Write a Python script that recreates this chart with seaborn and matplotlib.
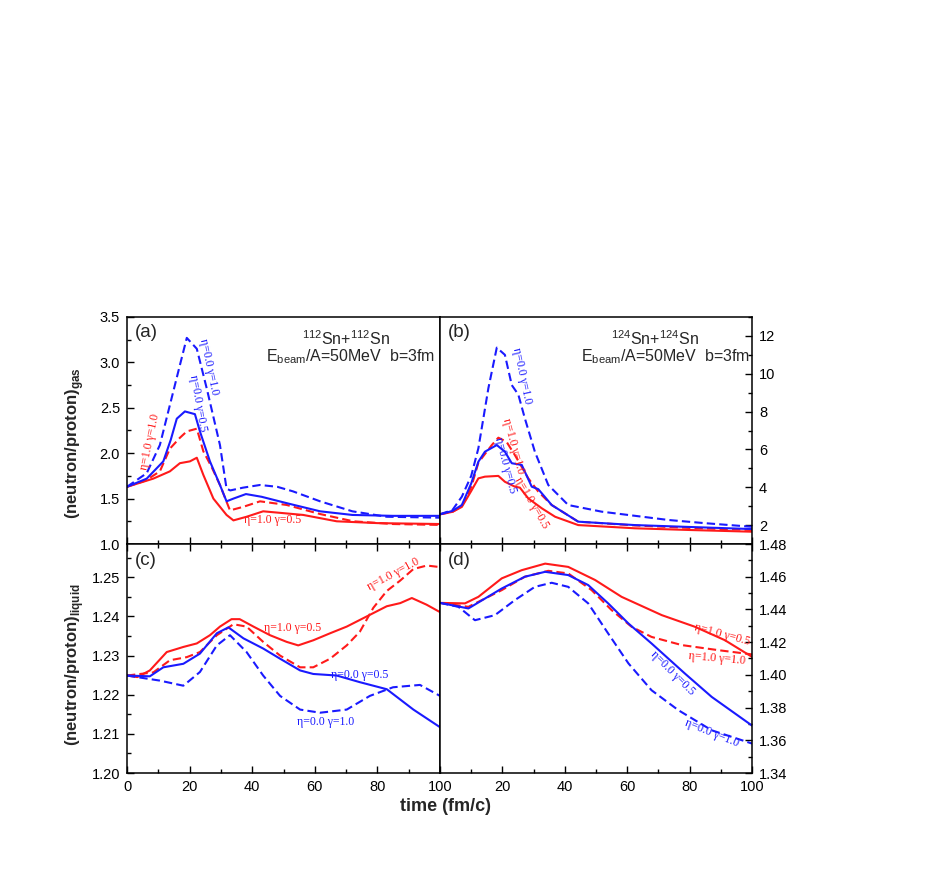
import numpy as np
import pandas as pd
import matplotlib.pyplot as plt
import seaborn as sns
from matplotlib.ticker import MultipleLocator, FixedLocator

sns.set_style("ticks")
plt.rcParams['font.family'] = ['Liberation Sans', 'DejaVu Sans']
plt.rcParams['mathtext.fontset'] = 'custom'
plt.rcParams['mathtext.rm'] = 'Liberation Sans'
plt.rcParams['mathtext.bf'] = 'Liberation Sans:bold'

RED = '#ff1a1a'
BLUE = '#1a1aff'

# panel (a): 112Sn+112Sn, gas
a_t_b10 = [0, 6.3, 10.5, 13.7, 16.9, 19.1, 22.3, 25.5, 29.7, 31.8, 33, 37, 42.5, 48, 53, 61.7, 72, 83, 100]
a_v_b10 = [1.63, 1.78, 2.09, 2.53, 2.97, 3.27, 3.15, 2.71, 2.09, 1.61, 1.59, 1.62, 1.65, 1.63, 1.58, 1.47, 1.36, 1.30, 1.29]
a_t_b05 = [0, 6.3, 11.6, 14, 15.9, 18.5, 21.7, 23.3, 26.5, 29.7, 31.8, 34, 38, 43, 51, 61.7, 72, 85, 100]
a_v_b05 = [1.63, 1.72, 1.91, 2.15, 2.38, 2.46, 2.43, 2.24, 1.91, 1.65, 1.47, 1.50, 1.55, 1.52, 1.45, 1.36, 1.32, 1.31, 1.31]
a_t_r10 = [0, 6, 10.5, 13.7, 16.9, 19.1, 22.3, 24.4, 27, 29.7, 32.9, 37.2, 42.5, 51, 61.7, 72.3, 85, 100]
a_v_r10 = [1.63, 1.70, 1.80, 2.05, 2.17, 2.24, 2.27, 2.02, 1.85, 1.65, 1.37, 1.41, 1.47, 1.43, 1.33, 1.25, 1.22, 1.21]
a_t_r05 = [0, 8.4, 13.7, 16.9, 20.1, 22.3, 24.4, 27.6, 31.8, 34, 38.2, 43.5, 56.3, 67, 80, 100]
a_v_r05 = [1.63, 1.72, 1.80, 1.89, 1.91, 1.95, 1.76, 1.50, 1.32, 1.26, 1.30, 1.36, 1.32, 1.25, 1.23, 1.22]

# panel (b): 124Sn+124Sn, gas
b_t_b10 = [0, 4, 7, 10, 12.3, 15.5, 18.2, 20.8, 23, 25.1, 27.2, 30.4, 34.7, 41.1, 51.8, 62, 73.2, 85, 100]
b_v_b10 = [2.57, 2.8, 3.5, 4.6, 6.06, 9.23, 11.38, 11.0, 9.4, 8.9, 7.64, 5.88, 4.12, 3.06, 2.71, 2.5, 2.27, 2.1, 1.91]
b_t_b05 = [0, 4, 7, 10, 12.3, 14.4, 18.2, 20.8, 23, 26.2, 29.4, 31.5, 35.8, 44.3, 62.5, 80, 100]
b_v_b05 = [2.57, 2.75, 3.06, 4.2, 5.35, 5.88, 6.23, 5.88, 5.27, 5.18, 4.03, 3.9, 3.06, 2.18, 2.0, 1.9, 1.79]
b_t_r10 = [0, 4, 7, 10, 12.3, 16.6, 18.7, 21.3, 24, 28.3, 31.5, 35.8, 44.3, 62.5, 80, 100]
b_v_r10 = [2.57, 2.7, 3.0, 4.0, 5.3, 6.23, 6.62, 6.41, 5.7, 4.47, 3.77, 3.06, 2.18, 1.98, 1.85, 1.74]
b_t_r05 = [0, 4, 7, 10, 12.3, 14.4, 18.7, 20.8, 24, 25.6, 28.3, 32.6, 36.9, 44.3, 62.5, 80, 100]
b_v_r05 = [2.57, 2.7, 2.96, 3.8, 4.47, 4.56, 4.6, 4.29, 4.03, 3.98, 3.41, 2.89, 2.44, 2.0, 1.83, 1.74, 1.65]

# panel (c): 112Sn+112Sn, liquid
c_t_r05 = [0, 3.3, 7.3, 12.7, 18, 22.3, 26.5, 29.7, 33.4, 36, 40.4, 45.7, 51, 54.7, 59.5, 64.9, 70.2, 76.6, 83, 87.3, 91, 95.7, 100]
c_v_r05 = [1.2249, 1.2245, 1.2262, 1.2309, 1.2322, 1.2331, 1.2352, 1.2374, 1.2393, 1.2393, 1.2374, 1.2352, 1.2335, 1.2326,
           1.2339, 1.2357, 1.2374, 1.2400, 1.2426, 1.2434, 1.2447, 1.2430, 1.2411]
c_t_r10 = [0, 8.4, 13.7, 19.1, 23.3, 28.7, 34, 38.2, 43.5, 48.9, 55.3, 59.5, 64.9, 70.2, 74.4, 78.7, 83, 87.2, 91.5, 95.8, 100]
c_v_r10 = [1.2249, 1.2257, 1.2288, 1.2296, 1.2309, 1.2352, 1.2380, 1.2374, 1.2335, 1.2300, 1.2270, 1.2270, 1.2292, 1.2326,
           1.2361, 1.2422, 1.2465, 1.2491, 1.2521, 1.2530, 1.2526]
c_t_b05 = [0, 7.3, 11.6, 18, 23.3, 28.7, 32.4, 37.2, 43.5, 48.9, 55.3, 59.5, 67, 74.4, 83, 91.5, 100]
c_v_b05 = [1.2249, 1.2247, 1.2270, 1.2279, 1.2305, 1.2357, 1.2372, 1.2344, 1.2318, 1.2292, 1.2262, 1.2253, 1.2249, 1.2232,
           1.2214, 1.2162, 1.2117]
c_t_b10 = [0, 10.5, 18, 23.3, 28.7, 32.9, 38.2, 43.5, 48.9, 55.3, 61.7, 70.2, 77.6, 85, 93.6, 100]
c_v_b10 = [1.2249, 1.2236, 1.2223, 1.2258, 1.2326, 1.2352, 1.2309, 1.2249, 1.2197, 1.2162, 1.2154, 1.2162, 1.2197, 1.2219,
           1.2225, 1.2197]

# panel (d): 124Sn+124Sn, liquid
d_t_r05 = [0, 8, 12.3, 19.8, 26.2, 33.7, 41.1, 49.7, 58.2, 71.1, 81.7, 91.3, 100]
d_v_r05 = [1.444, 1.4437, 1.4477, 1.459, 1.464, 1.468, 1.466, 1.458, 1.4477, 1.4365, 1.4294, 1.4212, 1.411]
d_t_r10 = [0, 9.1, 19.8, 27.2, 34.7, 41.1, 48.6, 55, 61.4, 67.8, 77.5, 89.2, 100]
d_v_r10 = [1.444, 1.4416, 1.4518, 1.460, 1.4636, 1.462, 1.4518, 1.4396, 1.4294, 1.4232, 1.4182, 1.4151, 1.4125]
d_t_b05 = [0, 9.1, 19.8, 27.2, 33.7, 41.1, 47.5, 53.9, 60.4, 67.8, 78.5, 87.1, 100]
d_v_b05 = [1.444, 1.4406, 1.4528, 1.460, 1.463, 1.461, 1.4549, 1.4437, 1.4314, 1.4192, 1.4008, 1.3865, 1.369]
d_t_b10 = [0, 5.9, 11.2, 17.6, 24, 30.4, 35.8, 41.1, 47.5, 53.9, 60.4, 67.8, 76.4, 87.1, 100]
d_v_b10 = [1.444, 1.4416, 1.4334, 1.4365, 1.4457, 1.4538, 1.4563, 1.4538, 1.4437, 1.4253, 1.407, 1.3906, 1.3784, 1.3661, 1.358]

fig = plt.figure(figsize=(9.26, 8.72), dpi=100)
W, H = 926, 872


def box(x0, y0, x1, y1):
    return [x0 / W, 1 - y1 / H, (x1 - x0) / W, (y1 - y0) / H]


ax_a = fig.add_axes(box(127, 317, 440, 544))
ax_b = fig.add_axes(box(440, 317, 752, 544))
ax_c = fig.add_axes(box(127, 544, 440, 773))
ax_d = fig.add_axes(box(440, 544, 752, 773))


def curve(ax, t, v, color, dashed):
    sns.lineplot(x=t, y=v, ax=ax, color=color, lw=1.5, estimator=None, sort=False,
                 linestyle=(0, (4, 2)) if dashed else '-')


curve(ax_a, a_t_r05, a_v_r05, RED, False)
curve(ax_a, a_t_r10, a_v_r10, RED, True)
curve(ax_a, a_t_b05, a_v_b05, BLUE, False)
curve(ax_a, a_t_b10, a_v_b10, BLUE, True)

curve(ax_b, b_t_r05, b_v_r05, RED, False)
curve(ax_b, b_t_r10, b_v_r10, RED, True)
curve(ax_b, b_t_b05, b_v_b05, BLUE, False)
curve(ax_b, b_t_b10, b_v_b10, BLUE, True)

curve(ax_c, c_t_r05, c_v_r05, RED, False)
curve(ax_c, c_t_r10, c_v_r10, RED, True)
curve(ax_c, c_t_b05, c_v_b05, BLUE, False)
curve(ax_c, c_t_b10, c_v_b10, BLUE, True)

curve(ax_d, d_t_r05, d_v_r05, RED, False)
curve(ax_d, d_t_r10, d_v_r10, RED, True)
curve(ax_d, d_t_b05, d_v_b05, BLUE, False)
curve(ax_d, d_t_b10, d_v_b10, BLUE, True)

# axes styling
for ax in [ax_a, ax_b, ax_c, ax_d]:
    ax.set_xlim(0, 100)
    ax.set_xlabel('')
    ax.set_ylabel('')
    ax.xaxis.set_major_locator(MultipleLocator(20))
    ax.xaxis.set_minor_locator(MultipleLocator(10))
    for s in ax.spines.values():
        s.set_linewidth(1.1)
        s.set_color('black')
    ax.tick_params(which='both', direction='in', colors='black', labelsize=10.5, width=1.0, pad=5)
    ax.tick_params(which='major', length=5)
    ax.tick_params(which='minor', length=3)

ax_a.set_ylim(1.0, 3.5)
ax_a.yaxis.set_major_locator(MultipleLocator(0.5))
ax_a.yaxis.set_minor_locator(MultipleLocator(0.25))
ax_a.yaxis.set_major_formatter(lambda v, p: f'{v:.1f}')
ax_a.tick_params(which='both', top=False, bottom=True, left=True, right=False, labelbottom=False)

ax_b.set_ylim(1, 13)
ax_b.yaxis.set_major_locator(FixedLocator([2, 4, 6, 8, 10, 12]))
ax_b.yaxis.set_minor_locator(FixedLocator(list(range(1, 14))))
ax_b.yaxis.tick_right()
ax_b.tick_params(which='both', top=False, bottom=True, left=False, right=True, labelbottom=False,
                 labelleft=False, labelright=True)

ax_c.set_ylim(1.20, 1.2585)
ax_c.yaxis.set_major_locator(FixedLocator([1.20, 1.21, 1.22, 1.23, 1.24, 1.25]))
ax_c.yaxis.set_minor_locator(MultipleLocator(0.005))
ax_c.yaxis.set_major_formatter(lambda v, p: f'{v:.2f}')
ax_c.tick_params(which='both', top=True, bottom=True, left=True, right=False)

ax_d.set_ylim(1.34, 1.48)
ax_d.yaxis.set_major_locator(MultipleLocator(0.02))
ax_d.yaxis.set_minor_locator(MultipleLocator(0.01))
ax_d.yaxis.set_major_formatter(lambda v, p: f'{v:.2f}')
ax_d.yaxis.tick_right()
ax_d.tick_params(which='both', top=True, bottom=True, left=False, right=True, labelleft=False, labelright=True)
ax_d.set_xticks([0, 20, 40, 60, 80, 100])
ax_d.set_xticklabels(['', '20', '40', '60', '80', '100'])

# panel tags and reaction text
for ax, tag in [(ax_a, '(a)'), (ax_b, '(b)'), (ax_c, '(c)'), (ax_d, '(d)')]:
    ax.text(0.025, 0.93, tag, transform=ax.transAxes, fontsize=13.5, va='center', ha='left')

beam = r'E$_{\mathrm{beam}}$/A=50MeV  b=3fm'
ax_a.text(0.70, 0.905, r'$^{112}$Sn+$^{112}$Sn', transform=ax_a.transAxes, fontsize=11.5, ha='center', va='center')
ax_a.text(0.985, 0.825, beam, transform=ax_a.transAxes, fontsize=11.5, ha='right', va='center')
ax_b.text(0.69, 0.905, r'$^{124}$Sn+$^{124}$Sn', transform=ax_b.transAxes, fontsize=11.5, ha='center', va='center')
ax_b.text(0.995, 0.825, beam, transform=ax_b.transAxes, fontsize=11.5, ha='right', va='center')

# curve labels
serif = ['Liberation Serif', 'DejaVu Serif']


def lab(ax, x, y, s, color, rot):
    ax.text(x, y, s, color=color, rotation=rot, fontsize=8.5, family=serif, ha='center', va='center',
            rotation_mode='anchor')


lab(ax_a, 26.2, 2.95, 'η=0.0 γ=1.0', BLUE, -78)
lab(ax_a, 22.6, 2.55, 'η=0.0 γ=0.5', BLUE, -80)
lab(ax_a, 7.3, 2.12, 'η=1.0 γ=1.0', RED, 78)
lab(ax_a, 46.6, 1.26, 'η=1.0 γ=0.5', RED, 0)

lab(ax_b, 26.2, 9.9, 'η=0.0 γ=1.0', BLUE, -78)
lab(ax_b, 23.6, 6.2, 'η=1.0 γ=1.0', RED, -75)
lab(ax_b, 20.8, 5.15, 'η=0.0 γ=0.5', BLUE, -75)
lab(ax_b, 29.4, 3.17, 'η=1.0 γ=0.5', RED, -60)

lab(ax_c, 85, 1.2507, 'η=1.0 γ=1.0', RED, 28)
lab(ax_c, 53, 1.2370, 'η=1.0 γ=0.5', RED, 0)
lab(ax_c, 74.4, 1.2251, 'η=0.0 γ=0.5', BLUE, 0)
lab(ax_c, 63.3, 1.2131, 'η=0.0 γ=1.0', BLUE, 0)

lab(ax_d, 90.4, 1.4243, 'η=1.0 γ=0.5', RED, -15)
lab(ax_d, 88.8, 1.4102, 'η=1.0 γ=1.0', RED, -5)
lab(ax_d, 74.4, 1.4010, 'η=0.0 γ=0.5', BLUE, -45)
lab(ax_d, 87.2, 1.3643, 'η=0.0 γ=1.0', BLUE, -22)

# axis titles
fig.text(75 / W, 1 - 443 / H, r'(neutron/proton)$_{\mathbf{gas}}$', rotation=90, fontsize=12,
         fontweight='bold', ha='center', va='center')
fig.text(75 / W, 1 - 665 / H, r'(neutron/proton)$_{\mathbf{liquid}}$', rotation=90, fontsize=12,
         fontweight='bold', ha='center', va='center')
fig.text(445 / W, 1 - 806 / H, 'time (fm/c)', fontsize=13, fontweight='bold', ha='center', va='center')

fig.savefig('out.png', dpi=100)
